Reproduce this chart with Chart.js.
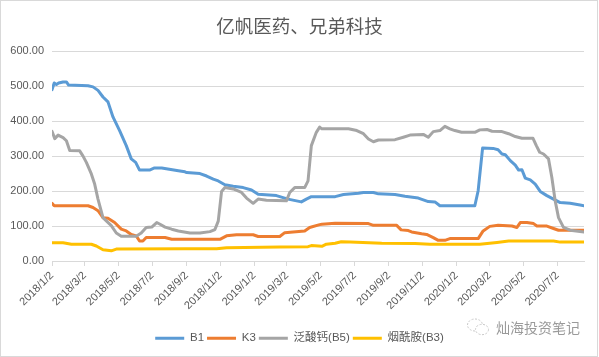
<!DOCTYPE html>
<html><head><meta charset="utf-8">
<script src="https://cdn.jsdelivr.net/npm/chart.js@4"></script>
<style>
html,body{margin:0;padding:0;background:#fff;}
#wrap{position:relative;width:599px;height:357px;overflow:hidden;}
#c{position:absolute;left:0;top:0;}
#frame{position:absolute;left:0;top:0;width:596px;height:355px;border:1px solid #d9d9d9;pointer-events:none;}
#wm{position:absolute;left:466px;top:317px;display:flex;align-items:center;font-family:"Noto Sans CJK SC",sans-serif;font-size:14px;color:#9a9a9a;white-space:nowrap;}
#wm svg{margin-right:6px;}
</style></head><body>
<div id="wrap">
<canvas id="c" width="599" height="357" style="width:599px;height:357px"></canvas>
<div id="frame"></div>
<div id="wm"><svg width="24" height="20" viewBox="0 0 24 20"><ellipse cx="9" cy="8" rx="7.5" ry="6" fill="none" stroke="#c8c8c8" stroke-width="1" stroke-dasharray="2 1.5"/><ellipse cx="16" cy="12.5" rx="6.5" ry="5.2" fill="#fff" stroke="#c8c8c8" stroke-width="1" stroke-dasharray="2 1.5"/></svg><span>灿海投资笔记</span></div>
</div>
<script>
const titleText = '亿帆医药、兄弟科技';
const seriesNames = ['B1', 'K3', '泛酸钙(B5)', '烟酰胺(B3)'];
const tickLabels = ['2018/1/2','2018/3/2','2018/5/2','2018/7/2','2018/9/2','2018/11/2','2019/1/2','2019/3/2','2019/5/2','2019/7/2','2019/9/2','2019/11/2','2020/1/2','2020/3/2','2020/5/2','2020/7/2'];
const startDate = '2018/1/2';
const endDate = '2020/8/19';

const b1Dates = ['2018/1/2','2018/1/6','2018/1/10','2018/1/14','2018/1/22','2018/1/28','2018/2/1','2018/3/8','2018/3/17','2018/3/26','2018/4/4','2018/4/13','2018/4/22','2018/5/4','2018/5/16','2018/5/25','2018/6/2','2018/6/9','2018/6/27','2018/7/6','2018/7/19','2018/8/18','2018/8/30','2018/9/2','2018/9/26','2018/10/8','2018/10/20','2018/10/29','2018/11/10','2018/11/25','2018/12/13','2018/12/28','2019/1/9','2019/2/11','2019/3/4','2019/3/28','2019/4/6','2019/4/15','2019/5/28','2019/6/12','2019/7/9','2019/7/18','2019/8/5','2019/8/14','2019/9/13','2019/10/1','2019/10/25','2019/11/12','2019/11/24','2019/12/3','2020/2/4','2020/2/10','2020/2/18','2020/3/8','2020/3/17','2020/3/24','2020/3/30','2020/4/8','2020/4/17','2020/4/23','2020/4/29','2020/5/5','2020/5/14','2020/5/23','2020/6/1','2020/6/13','2020/6/25','2020/7/7','2020/7/25','2020/8/12','2020/8/19'];
const b1Values = [490,509,505,509,512,512,503,501,498,488,469,455,412,373,330,292,282,260,260,266,266,258,255,253,250,243,234,229,218,214,210,203,191,187,177,169,177,184,184,190,194,196,196,192,190,185,180,170,169,158,158,201,323,322,318,306,304,287,274,260,261,237,232,220,199,187,177,167,165,160,158];

const k3Dates = ['2018/1/2','2018/1/6','2018/3/8','2018/3/17','2018/3/26','2018/4/4','2018/4/13','2018/4/25','2018/5/7','2018/5/16','2018/5/25','2018/6/3','2018/6/9','2018/6/15','2018/6/21','2018/7/25','2018/8/6','2018/11/1','2018/11/13','2018/12/1','2018/12/31','2019/1/9','2019/2/17','2019/2/26','2019/3/13','2019/4/3','2019/4/12','2019/4/30','2019/5/4','2019/5/28','2019/7/27','2019/8/5','2019/9/16','2019/9/24','2019/10/7','2019/10/13','2019/10/31','2019/11/9','2019/11/21','2019/11/30','2019/12/12','2019/12/21','2020/2/10','2020/2/19','2020/3/2','2020/3/17','2020/4/11','2020/4/20','2020/4/26','2020/5/8','2020/5/20','2020/5/26','2020/6/13','2020/6/25','2020/7/4','2020/8/19'];
const k3Values = [165,158,158,153,144,124,122,110,91,86,76,72,57,57,67,67,62,62,72,75,75,70,70,81,83,86,96,104,105,108,107,102,102,89,87,83,78,76,67,59,59,64,64,86,99,102,100,96,110,110,107,100,100,93,88,88];

const b5Dates = ['2018/1/2','2018/1/7','2018/1/13','2018/1/22','2018/1/28','2018/2/3','2018/2/21','2018/2/27','2018/3/5','2018/3/14','2018/3/20','2018/3/26','2018/4/4','2018/4/10','2018/4/19','2018/4/28','2018/5/7','2018/6/3','2018/6/12','2018/6/21','2018/7/1','2018/7/10','2018/7/16','2018/7/25','2018/8/6','2018/8/18','2018/9/8','2018/9/26','2018/10/14','2018/10/23','2018/10/29','2018/11/4','2018/11/10','2018/11/25','2018/12/10','2018/12/19','2018/12/31','2019/1/9','2019/1/24','2019/3/1','2019/3/7','2019/3/16','2019/4/3','2019/4/9','2019/4/15','2019/4/24','2019/4/30','2019/5/4','2019/6/21','2019/7/6','2019/7/18','2019/7/27','2019/8/5','2019/8/14','2019/9/13','2019/9/28','2019/10/10','2019/11/3','2019/11/12','2019/11/21','2019/12/3','2019/12/12','2019/12/21','2019/12/30','2020/1/11','2020/2/4','2020/2/13','2020/2/26','2020/3/6','2020/3/24','2020/4/5','2020/4/17','2020/4/29','2020/5/19','2020/5/25','2020/5/31','2020/6/7','2020/6/16','2020/6/22','2020/6/28','2020/7/4','2020/7/13','2020/7/25','2020/8/19'];
const b5Values = [371,350,360,353,344,316,315,300,282,249,220,177,124,115,101,80,71,71,80,96,97,110,105,97,91,86,80,80,84,90,114,199,210,206,196,180,165,177,174,172,196,210,210,229,330,368,383,378,378,373,364,349,341,346,347,354,360,362,354,370,373,385,378,373,368,368,375,376,371,370,364,356,351,351,330,311,306,292,239,172,124,96,88,83];

const b3Dates = ['2018/1/2','2018/1/22','2018/2/6','2018/3/14','2018/3/23','2018/4/4','2018/4/19','2018/4/28','2018/8/30','2018/10/26','2018/11/13','2019/2/17','2019/4/9','2019/4/15','2019/5/4','2019/5/12','2019/5/28','2019/6/8','2019/6/24','2019/8/20','2019/10/19','2019/11/15','2020/2/13','2020/3/15','2020/4/5','2020/6/25','2020/7/7','2020/8/19'];
const b3Values = [52,52,48,48,43,32,29,34,35,35,38,40,41,44,42,48,51,55,54,51,50,48,48,53,57,57,54,54];

const colors = ['#5B9BD5', '#ED7D31', '#A5A5A5', '#FFC000'];

function dayOf(s) {
  const [y, m, d] = s.split('/').map(Number);
  const [y0, m0, d0] = startDate.split('/').map(Number);
  return Math.round((Date.UTC(y, m - 1, d) - Date.UTC(y0, m0 - 1, d0)) / 86400000);
}
function pts(dates, values) { return dates.map((d, i) => ({ x: dayOf(d), y: values[i] })); }

const seriesData = [pts(b1Dates, b1Values), pts(k3Dates, k3Values), pts(b5Dates, b5Values), pts(b3Dates, b3Values)];
const tickDays = tickLabels.map(dayOf);

Chart.defaults.font.family = "'Liberation Sans', 'Noto Sans CJK SC', sans-serif";
Chart.defaults.color = '#595959';

new Chart(document.getElementById('c'), {
  type: 'line',
  data: {
    datasets: seriesNames.map((name, i) => ({
      label: name,
      data: seriesData[i],
      borderColor: colors[i],
      backgroundColor: colors[i],
      borderWidth: 3,
      pointRadius: 0,
      tension: 0,
      fill: false,
      borderJoinStyle: 'round',
      borderCapStyle: 'round',
      order: 4 - i
    }))
  },
  options: {
    responsive: false,
    animation: false,
    layout: { padding: { left: 0, right: 0, top: 0, bottom: 3 } },
    plugins: {
      tooltip: { enabled: false },
      title: {
        display: true, text: titleText, color: '#595959',
        font: { family: "'Noto Sans CJK SC', sans-serif", size: 18.5, weight: 'normal' },
        padding: { top: 15, bottom: 14 }
      },
      legend: {
        position: 'bottom',
        labels: {
          boxWidth: 29, boxHeight: 3, padding: 3, color: '#595959',
          font: { size: 11.5 },
          generateLabels(chart) {
            const items = Chart.defaults.plugins.legend.labels.generateLabels(chart);
            items.forEach(it => { it.lineWidth = 0; it.fillStyle = it.strokeStyle; });
            return items.sort((a, b) => a.datasetIndex - b.datasetIndex);
          }
        }
      }
    },
    scales: {
      x: {
        type: 'linear', min: 0, max: dayOf(endDate),
        afterBuildTicks(axis) { axis.ticks = tickDays.map(v => ({ value: v })); },
        afterFit(axis) { axis.height = 68.5; },
        grid: { display: true, drawOnChartArea: false, drawTicks: true, tickLength: 5, color: '#d9d9d9' },
        border: { display: true, color: '#d9d9d9' },
        ticks: { autoSkip: false, maxRotation: 45, minRotation: 45, padding: 3, color: '#595959', font: { size: 11 },
          callback: (v, i) => tickLabels[i] }
      },
      y: {
        min: 0, max: 600,
        afterFit(axis) { axis.width = 52; },
        grid: { color: '#d9d9d9', drawTicks: false },
        border: { display: false },
        ticks: { stepSize: 100, padding: 8, color: '#595959', font: { size: 11 }, callback: v => v.toFixed(2) }
      },
      yRight: {
        position: 'right', min: 0, max: 1,
        afterFit(axis) { axis.width = 15; },
        grid: { display: false, drawOnChartArea: false, drawTicks: false },
        border: { display: false },
        ticks: { display: false }
      }
    }
  }
});
</script>
</body></html>
